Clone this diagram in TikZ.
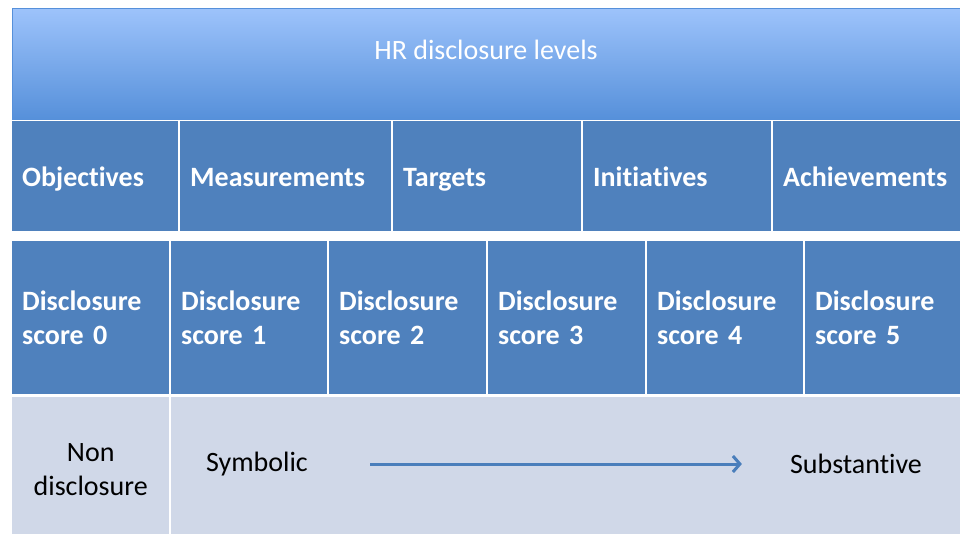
\documentclass[tikz,border=0pt]{standalone}
\usepackage{fontspec}
\setmainfont[Ligatures=NoCommon]{Carlito}
\usepackage{xcolor}
\usepackage{tikz}
\usetikzlibrary{arrows.meta,positioning}
\definecolor{hrBlue}{HTML}{4F81BD}
\definecolor{hrPale}{HTML}{D0D8E8}
\definecolor{hrTop}{HTML}{9DC3FB}
\definecolor{hrBottom}{HTML}{5690DA}
\definecolor{hrArrow}{HTML}{4A7EBB}

\begin{document}
\begin{tikzpicture}[x=1pt, y=-1pt, font=\fontsize{28}{34}\selectfont,
  cell/.style={anchor=north west, inner sep=0pt, inner xsep=10pt, fill=hrBlue,
    text=white, font=\bfseries\fontsize{28}{34}\selectfont, align=left},
  level/.style={cell, minimum height=110pt, text height=23pt, text depth=3pt},
  pale/.style={anchor=north west, inner sep=0pt, fill=hrPale},
  word/.style={inner sep=0pt, text=black}]
\useasboundingbox (0,0) rectangle (960,534);
% ---------- title band ----------
\node[anchor=north west, inner sep=0pt, minimum width=948pt, minimum height=111pt,
  top color=hrTop, bottom color=hrBottom, draw=hrBottom, line width=0.6pt] (band) at (12,8) {};
\node[text=white, inner sep=0pt] (title) at (486,50) {HR disclosure levels};
% ---------- levels ----------
\node[level, text width=146pt] (obj) at (12,121) {Objectives};
\node[level, text width=191pt] (meas) at (180,121) {Measurements};
\node[level, text width=168pt] (targ) at (393,121) {Targets};
\node[level, text width=168pt] (init) at (583,121) {Initiatives};
\node[level, text width=167pt] (ach) at (773,121) {Achievements};
% ---------- scores ----------
\node[cell, text width=137pt, minimum height=153pt] (s0) at (12,241) {Disclosure\\score 0};
\node[cell, text width=136pt, minimum height=153pt] (s1) at (171,241) {Disclosure\\score 1};
\node[cell, text width=137pt, minimum height=153pt] (s2) at (329,241) {Disclosure\\score 2};
\node[cell, text width=137pt, minimum height=153pt] (s3) at (488,241) {Disclosure\\score 3};
\node[cell, text width=136pt, minimum height=153pt] (s4) at (647,241) {Disclosure\\score 4};
\node[cell, text width=135pt, minimum height=153pt] (s5) at (805,241) {Disclosure\\score 5};
% ---------- bottom row ----------
\node[pale, minimum width=157pt, minimum height=137pt] (nonbox) at (12,397) {};
\node[pale, minimum width=789pt, minimum height=137pt] (scale) at (171,397) {};
\node[word, align=center] (non) at ([yshift=-4pt]nonbox.center) {Non\\disclosure};
\node[word] (sym) at (257,464) {Symbolic};
\node[word] (subst) at (856,464) {Substantive};
\draw[hrArrow, line width=3pt, -{Straight Barb[length=7pt, width=16pt]}]
  ([xshift=62pt]sym.east) -- ([xshift=-48pt]subst.west);
\end{tikzpicture}
\end{document}
